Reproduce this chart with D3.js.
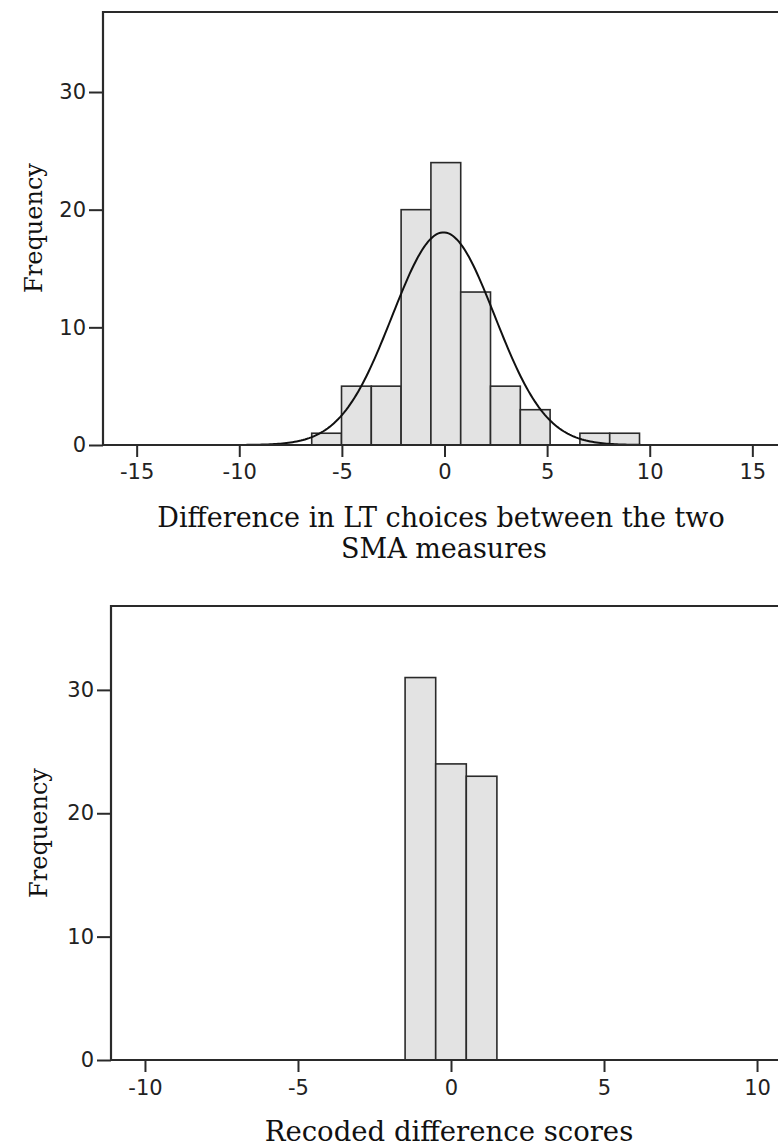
<!DOCTYPE html>
<html>
<head>
<meta charset="utf-8">
<script src="https://cdn.jsdelivr.net/npm/d3@7"></script>
<style>
  body { margin: 0; background: #fff; }
  .tick text { font-family: "DejaVu Sans", sans-serif; font-size: 21px; fill: #222; }
  .title { font-family: "DejaVu Serif", serif; font-size: 27px; fill: #111; }
</style>
</head>
<body>
<script>
// top histogram: difference in LT choices
var topBinStart = -6.47, topBinWidth = 1.452;
var topCounts = [1, 5, 5, 20, 24, 13, 5, 3, 0, 1, 1];
var topXTicks = [-15, -10, -5, 0, 5, 10, 15];
var topCurve = {mean: -0.05, sd: 2.5, n: 78};

// bottom histogram: recoded scores
var bottomBins = [-1, 0, 1];
var bottomCounts = [31, 24, 23];
var bottomXTicks = [-10, -5, 0, 5, 10];

var yTicks = [0, 10, 20, 30];

var W = 778, H = 1147;
var svg = d3.select("body").append("svg")
    .attr("width", W)
    .attr("height", H);

function frame(g, x, y) {
    var x0 = x.range()[0], x1 = x.range()[1];
    var y0 = y.range()[0], y1 = y.range()[1];
    g.append("path")
        .attr("d", "M" + x1 + "," + y1 + "H" + x0 + "V" + y0 + "H" + x1)
        .attr("fill", "none")
        .attr("stroke", "#2a2a2a")
        .attr("stroke-width", 2.2);
}

function axes(g, x, y, xt, xPad) {
    var fmt = function(d) { return String(d); };  // plain hyphen, like the original
    var ya = g.append("g")
        .attr("transform", "translate(" + x.range()[0] + ",0)")
        .call(d3.axisLeft(y).tickValues(yTicks).tickFormat(fmt).tickSize(14).tickPadding(3));
    var xa = g.append("g")
        .attr("transform", "translate(0," + y.range()[0] + ")")
        .call(d3.axisBottom(x).tickValues(xt).tickFormat(fmt).tickSize(12).tickPadding(xPad));
    [ya, xa].forEach(function(a) {
        a.select(".domain").remove();
        a.selectAll(".tick line").attr("stroke", "#2a2a2a").attr("stroke-width", 2);
    });
}

// ---- top chart
var x1 = d3.scaleLinear().domain([-16.64, 16.64]).range([103, 786]);
var y1 = d3.scaleLinear().domain([0, 36.8]).range([445, 12]);
var g1 = svg.append("g");

var topBins = topCounts.map(function(c, i) {
    return {lo: topBinStart + i * topBinWidth, count: c};
}).filter(function(b) { return b.count > 0; });

g1.selectAll(".bar").data(topBins)
    .enter()
    .append("rect")
    .attr("class", "bar")
    .attr("x", function(d) { return x1(d.lo); })
    .attr("width", function(d) { return x1(d.lo + topBinWidth) - x1(d.lo); })
    .attr("y", function(d) { return y1(d.count); })
    .attr("height", function(d) { return y1(0) - y1(d.count); })
    .attr("fill", "#e3e3e3")
    .attr("stroke", "#2a2a2a")
    .attr("stroke-width", 1.6);

// normal curve scaled to counts
var xs = d3.range(-16.6, 16.61, 0.1);
var norm = function(v) {
    var z = (v - topCurve.mean) / topCurve.sd;
    return topCurve.n * topBinWidth * Math.exp(-0.5 * z * z) / (topCurve.sd * Math.sqrt(2 * Math.PI));
};
g1.append("path")
    .datum(xs)
    .attr("d", d3.line().x(function(d) { return x1(d); }).y(function(d) { return y1(norm(d)); }))
    .attr("fill", "none")
    .attr("stroke", "#111")
    .attr("stroke-width", 2);

frame(g1, x1, y1);
axes(g1, x1, y1, topXTicks, 7);

g1.append("text").attr("class", "title")
    .attr("x", 441).attr("y", 527)
    .attr("text-anchor", "middle")
    .text("Difference in LT choices between the two");
g1.append("text").attr("class", "title")
    .attr("x", 444).attr("y", 558)
    .attr("text-anchor", "middle")
    .text("SMA measures");
g1.append("text").attr("class", "title")
    .attr("transform", "translate(42,228) rotate(-90)")
    .attr("text-anchor", "middle")
    .style("font-size", "24px")
    .text("Frequency");

// ---- bottom chart
var x2 = d3.scaleLinear().domain([-11.11, 11.11]).range([111, 791]);
var y2 = d3.scaleLinear().domain([0, 36.8]).range([1060, 606]);
var g2 = svg.append("g");

g2.selectAll(".bar").data(bottomCounts)
    .enter()
    .append("rect")
    .attr("class", "bar")
    .attr("x", function(d, i) { return x2(bottomBins[i] - 0.5); })
    .attr("width", x2(1) - x2(0))
    .attr("y", function(d) { return y2(d); })
    .attr("height", function(d) { return y2(0) - y2(d); })
    .attr("fill", "#e3e3e3")
    .attr("stroke", "#2a2a2a")
    .attr("stroke-width", 1.6);

frame(g2, x2, y2);
axes(g2, x2, y2, bottomXTicks, 8);

g2.append("text").attr("class", "title")
    .attr("x", 449).attr("y", 1141)
    .attr("text-anchor", "middle")
    .style("font-size", "27.5px")
    .text("Recoded difference scores");
g2.append("text").attr("class", "title")
    .attr("transform", "translate(47,833) rotate(-90)")
    .attr("text-anchor", "middle")
    .style("font-size", "24px")
    .text("Frequency");
</script>
</body>
</html>
